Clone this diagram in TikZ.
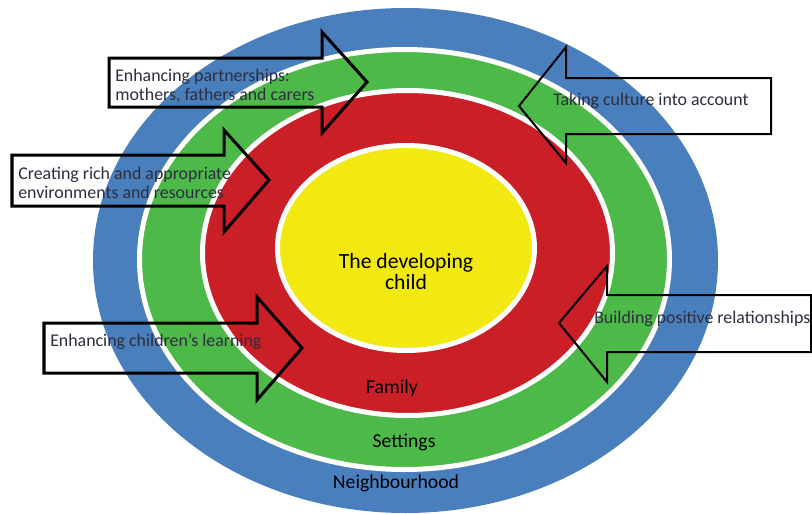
\documentclass[tikz,border=0pt]{standalone}
\usepackage{fontspec}
\setmainfont{Carlito}
\usepackage{xcolor}
\usetikzlibrary{positioning}
\definecolor{hoodblue}{RGB}{74,127,190}
\definecolor{setgreen}{RGB}{76,185,72}
\definecolor{famred}{RGB}{203,31,39}
\definecolor{childyellow}{RGB}{242,233,18}
\definecolor{arrowtext}{RGB}{45,45,62}
\tikzset{%
	ring/.style      = {draw=white, line width=0.125cm}, % white gap between rings
	ringlabel/.style = {inner sep=0pt, font=\fontsize{14}{15}\selectfont, align=center},
	hollow/.style    = {draw=black, line join=miter},
	fatline/.style   = {hollow, line width=0.075cm},
	thinline/.style  = {hollow, line width=0.05cm},
	arrowlabel/.style= {inner sep=0pt, anchor=west, align=left, text=arrowtext, font=\fontsize{12.7}{13.6}\selectfont},
}
\begin{document}
\begin{tikzpicture}[x=0.025cm,y=-0.025cm]
	\useasboundingbox (0,0) rectangle (812,514);
	% rings
	\fill[hoodblue] (405.5,260.5) ellipse [x radius=312.5, y radius=252.5];
	\filldraw[ring,fill=setgreen] (404.5,259.5) ellipse [x radius=265, y radius=210];
	\filldraw[ring,fill=famred] (407.5,253) ellipse [x radius=205, y radius=162.5];
	\filldraw[ring,fill=childyellow] (406,248) ellipse [x radius=128.5, y radius=102.5];

	\node[ringlabel,font=\fontsize{15.4}{15}\selectfont] (child) at (406,272) {The developing\\child};
	\node[ringlabel] (family) at (392,388) {Family};
	\node[ringlabel] (settings) at (404,442) {Settings};
	\node[ringlabel] (hood) at (396,483) {Neighbourhood};

	% block arrows
	\draw[fatline] (109,58) -- (322,58) -- (322,32) -- (367,82) -- (322,133) -- (322,107) -- (109,107) -- cycle;
	\draw[fatline] (12,155) -- (224,155) -- (224,130) -- (269,180) -- (224,232) -- (224,206) -- (12,206) -- cycle;
	\draw[fatline] (44,323) -- (257,323) -- (257,297) -- (302,348) -- (257,400) -- (257,373) -- (44,373) -- cycle;
	\draw[thinline] (771,78) -- (566,78) -- (566,47) -- (519,106) -- (566,163) -- (566,134) -- (771,134) -- cycle;
	\draw[thinline] (811,295) -- (607,295) -- (607,266) -- (559,323) -- (607,382) -- (607,352) -- (811,352) -- cycle;

	\node[arrowlabel] (partners) at (115,86) {Enhancing partnerships:\\mothers, fathers and carers};
	\node[arrowlabel] (enviro) at (18,183) {Creating rich and appropriate\\environments and resources};
	\node[arrowlabel] (learning) at (50,342) {Enhancing children’s learning};
	\node[arrowlabel] (culture) at (553,101) {Taking culture into account};
	\node[arrowlabel] (relations) at (594,319) {Building positive relationships};
\end{tikzpicture}
\end{document}
